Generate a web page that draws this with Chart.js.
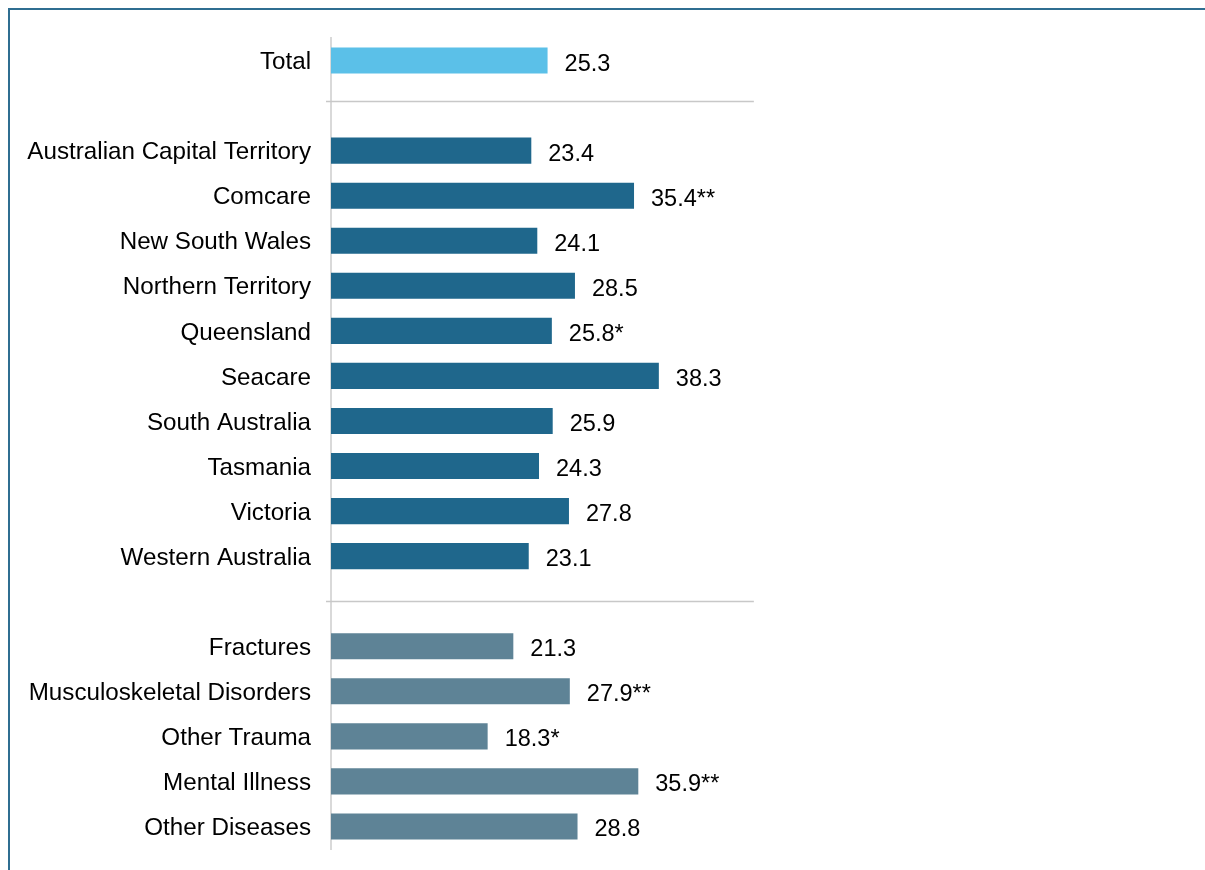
<!DOCTYPE html>
<html>
<head>
<meta charset="utf-8">
<script src="https://cdn.jsdelivr.net/npm/chart.js@4.4.1/dist/chart.umd.min.js"></script>
<style>
  html, body { margin: 0; padding: 0; background: #fff; overflow: hidden; }
  #frame { position: absolute; left: 8px; top: 8px; width: 1400px; height: 1000px;
           border-left: 2px solid #2F6E91; border-top: 2px solid #2F6E91; }
  #wrap { position: absolute; left: 0; top: 0; width: 1205px; height: 870px; }
</style>
</head>
<body>
<div id="frame"></div>
<div id="wrap"><canvas id="c" width="1205" height="870"></canvas></div>
<script>
// ---- data ----
const categories = [
  'Total', '',
  'Australian Capital Territory', 'Comcare', 'New South Wales', 'Northern Territory',
  'Queensland', 'Seacare', 'South Australia', 'Tasmania', 'Victoria', 'Western Australia',
  '',
  'Fractures', 'Musculoskeletal Disorders', 'Other Trauma', 'Mental Illness', 'Other Diseases'
];
const values = [
  25.3, null,
  23.4, 35.4, 24.1, 28.5, 25.8, 38.3, 25.9, 24.3, 27.8, 23.1,
  null,
  21.3, 27.9, 18.3, 35.9, 28.8
];
const significance = [
  '', '',
  '', '**', '', '', '*', '', '', '', '', '',
  '',
  '', '**', '*', '**', ''
];
const groups = [
  'total', 'none',
  'state', 'state', 'state', 'state', 'state', 'state', 'state', 'state', 'state', 'state',
  'none',
  'disease', 'disease', 'disease', 'disease', 'disease'
];
const groupColors = { total: '#5BC0E8', state: '#1F678C', disease: '#5E8396', none: 'rgba(0,0,0,0)' };
const separatorRows = [0.89, 11.99];
const xMax = 50;

const FONT = '"Liberation Sans", Arial, sans-serif';

const valueLabels = {
  id: 'valueLabels',
  afterDatasetsDraw(chart) {
    const ctx = chart.ctx;
    const meta = chart.getDatasetMeta(0);
    ctx.save();
    ctx.font = '23.5px ' + FONT;
    ctx.fillStyle = '#000';
    ctx.textAlign = 'left';
    ctx.textBaseline = 'middle';
    meta.data.forEach((bar, i) => {
      if (values[i] == null) return;
      ctx.fillText(values[i].toFixed(1) + significance[i], bar.x + 17, bar.y + 3.5);
    });
    ctx.restore();
  }
};

const separators = {
  id: 'separators',
  beforeDatasetsDraw(chart) {
    const ctx = chart.ctx;
    const xs = chart.scales.x, ys = chart.scales.y;
    ctx.save();
    ctx.strokeStyle = '#C8C8C8';
    ctx.lineWidth = 1.5;
    separatorRows.forEach(r => {
      const y = Math.round(ys.getPixelForValue(r)) + 0.5;
      ctx.beginPath();
      ctx.moveTo(xs.getPixelForValue(0) - 5, y);
      ctx.lineTo(xs.getPixelForValue(49.4), y);
      ctx.stroke();
    });
    ctx.restore();
  }
};

new Chart(document.getElementById('c'), {
  type: 'bar',
  data: {
    labels: categories,
    datasets: [{
      data: values,
      backgroundColor: groups.map(g => groupColors[g]),
      borderWidth: 0,
      barPercentage: 0.58,
      categoryPercentage: 1.0
    }]
  },
  options: {
    indexAxis: 'y',
    responsive: false,
    animation: false,
    devicePixelRatio: 1,
    layout: { padding: { left: 0, right: 446, top: 38, bottom: 21 } },
    plugins: { legend: { display: false }, tooltip: { enabled: false } },
    scales: {
      x: { display: false, min: 0, max: xMax },
      y: {
        grid: { display: false, drawTicks: false },
        border: { display: true, color: '#D9D9D9', width: 2 },
        ticks: { color: '#000', font: { family: FONT, size: 24.2 }, padding: 20, autoSkip: false, labelOffset: 2 },
        afterFit(scale) { scale.width = 331; scale.paddingTop = 0; scale.paddingBottom = 0; }
      }
    }
  },
  plugins: [separators, valueLabels]
});
</script>
</body>
</html>
